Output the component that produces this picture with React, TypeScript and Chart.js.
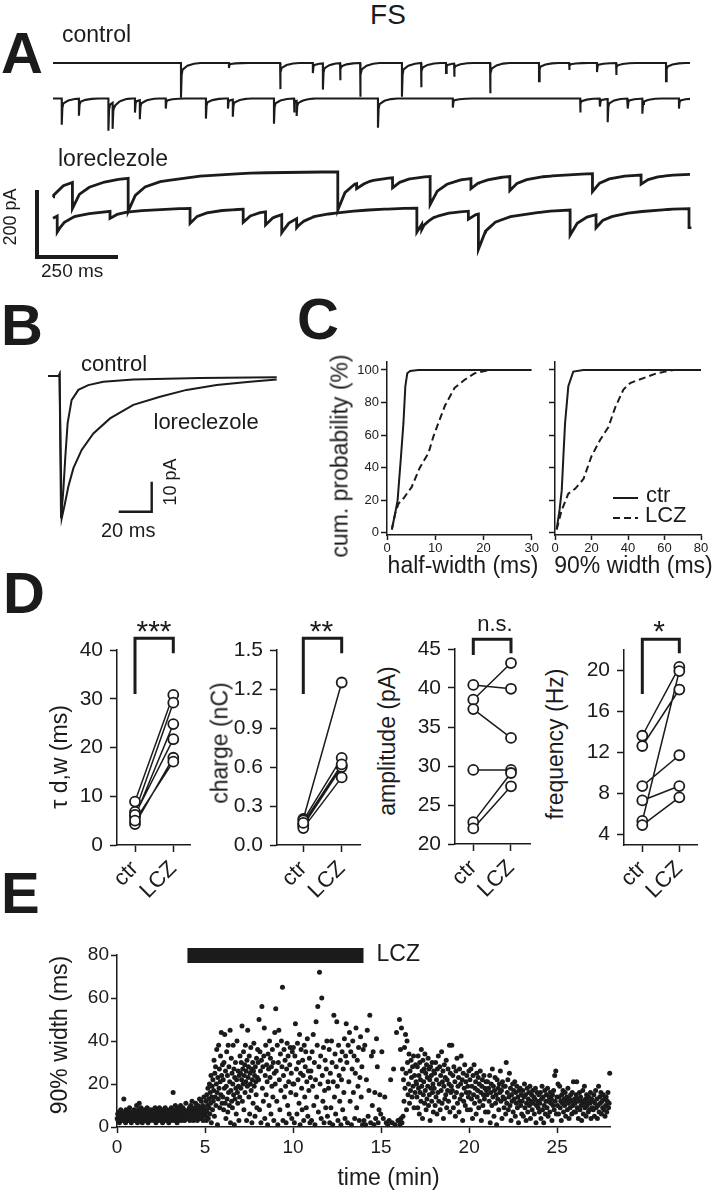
import React, { useEffect, useRef } from 'react';
import { Chart, registerables } from 'chart.js';

Chart.register(...registerables);

const FONT = '"Liberation Sans", Arial, Helvetica, sans-serif';
const INK = '#1b1b1b';

/* ======================= DATA ======================= */

// Panel A – spontaneous events in 2-s sweeps: [time (ms), amplitude (pA)]
const controlSweep1: [number, number][] = [
  [395, 104], [543, 15], [701, 78], [802, 30], [833, 78], [886, 51], [948, 101], [1077, 101],
  [1136, 72], [1213, 30], [1238, 39], [1349, 90], [1500, 54], [1593, 21], [1679, 27], [1738, 36], [1892, 54],
];
const controlSweep2: [number, number][] = [
  [27, 78], [80, 51], [171, 96], [184, 78], [253, 42], [268, 57], [348, 30], [472, 60], [540, 30],
  [555, 51], [682, 75], [744, 42], [752, 45], [1003, 87], [1234, 27], [1627, 42], [1688, 24],
  [1712, 69], [1774, 30], [1819, 45], [1932, 30],
];
const lczSweep1: [number, number][] = [
  [-20, 128], [60, 78], [232, 99], [879, 114], [937, 15], [1048, 30], [1164, 84], [1290, 30],
  [1410, 42], [1665, 54], [1815, 27],
];
const lczSweep2: [number, number][] = [
  [-30, 70], [13, 48], [176, 21], [423, 45], [587, 39], [656, 39], [706, 54], [752, 27], [1123, 72],
  [1138, 15], [1282, 24], [1313, 105], [1596, 75], [1676, 39], [1963, 57],
];
// event decay shapes (time after peak in ms, fraction of peak)
const ctrlDecayMs = [0, 2, 5, 20, 40, 60];
const ctrlDecayFrac = [1, 0.35, 0.19, 0.08, 0.02, 0];
const lczDecayMs = [0, 22, 52, 99, 222, 377, 600];
const lczDecayFrac = [1, 0.54, 0.32, 0.19, 0.08, 0.03, 0];
const sweepEndMs = 1966;
const scaleBarA = { pA: 200, ms: 250 };

// Panel B – averaged events
const avgCtrlMs = [0, 6.6, 7.0, 7.9, 9.3, 10.5, 11.9, 14.3, 18.4, 24.4, 33.5, 51.7, 92, 138.6];
const avgCtrlPA = [0.3, 0.4, 0.9, -47.1, -37.7, -26.6, -15.4, -7.7, -4.3, -2.7, -1.6, -0.8, -0.3, -0.1];
const avgLczMs = [0, 6.6, 7.0, 8.3, 10.3, 12.3, 15.4, 20.4, 27.5, 37.6, 51.7, 67.9, 84, 102.2, 122.4, 138.6];
const avgLczPA = [0.3, 0.4, 0.9, -47.1, -42.1, -36.6, -30.4, -24.3, -18.8, -13.8, -9.3, -6.6, -4.3, -2.7, -1.6, -0.8];
const scaleBarB = { pA: 10, ms: 20 };

// Panel C – cumulative distributions
const hwCtrMs = [1.0, 1.7, 2.2, 2.9, 3.4, 3.8, 4.2, 4.8, 6.5, 30];
const hwCtrPct = [2, 12, 20, 47, 67, 90, 98, 99.4, 100, 100];
const hwLczMs = [1.0, 1.7, 2.4, 3.4, 5.1, 6.8, 8.6, 9.6, 10.6, 12, 14, 16.1, 18.2, 21.2, 30];
const hwLczPct = [2, 12, 18, 21, 28, 40, 49, 59, 67, 78, 89, 94, 98, 100, 100];
const w90CtrMs = [0.9, 2.5, 3.7, 4.6, 5.5, 7.3, 10, 15.6, 80];
const w90CtrPct = [2, 14, 26, 47, 67, 90, 99, 100, 100];
const w90LczMs = [0.9, 3.7, 7.3, 11, 15.6, 20, 24.7, 29.3, 33, 37.5, 41.2, 48.5, 55.9, 65, 80];
const w90LczPct = [2, 14, 24, 27, 33, 47, 57, 65, 77, 88, 92, 95, 98, 100, 100];
const hwTicks = [0, 10, 20, 30];
const w90Ticks = [0, 20, 40, 60, 80];
const cumTicks = [0, 20, 40, 60, 80, 100];

// Panel D – paired cells (ctr -> LCZ)
const groups = ['ctr', 'LCZ'];
const tauCtr = [8.9, 6.8, 5.8, 6.2, 4.3, 5.0];
const tauLcz = [30.8, 29.2, 24.8, 21.7, 17.9, 17.1];
const chargeCtr = [0.2, 0.19, 0.16, 0.15, 0.13, 0.17];
const chargeLcz = [1.25, 0.67, 0.61, 0.6, 0.52, 0.62];
const ampCtr = [40.4, 38.5, 37.3, 29.5, 22.8, 22.0];
const ampLcz = [39.9, 43.2, 33.6, 29.5, 29.1, 27.4];
const freqCtr = [13.6, 12.6, 8.7, 7.3, 5.3, 4.9];
const freqLcz = [20.3, 18.1, 11.7, 8.7, 19.9, 7.6];
const tauTicks = [0, 10, 20, 30, 40];
const chargeTicks = [0, 0.3, 0.6, 0.9, 1.2, 1.5];
const ampTicks = [20, 25, 30, 35, 40, 45];
const freqTicks = [4, 8, 12, 16, 20];

// Panel E – 90% width of each event, grouped per minute of recording
const width90ByMinute: number[][] = [
  [4, 6, 3, 5, 7, 2, 5, 4, 8, 3, 6, 5, 4, 7, 3, 13, 5, 6, 4, 2, 8, 5, 3, 6, 4, 7, 5, 3, 9, 4, 6, 5, 2, 7, 4, 5, 6, 3, 8, 5],
  [5, 3, 7, 4, 10, 6, 2, 5, 8, 4, 11, 3, 6, 5, 9, 4, 7, 2, 5, 6, 3, 8, 4, 5, 7, 3, 6, 4, 9, 5, 2, 6, 7, 4, 5, 3, 8, 6, 4, 5],
  [4, 6, 8, 3, 5, 7, 9, 4, 2, 6, 5, 8, 3, 7, 4, 6, 9, 5, 3, 7, 4, 8, 6, 2, 5, 7, 3, 6, 4, 9, 5, 8, 3, 6, 7, 4, 5, 2, 6, 8],
  [5, 7, 3, 9, 6, 4, 8, 16, 5, 3, 7, 6, 10, 4, 8, 5, 2, 7, 9, 3, 6, 5, 8, 4, 10, 6, 3, 7, 5, 9, 4, 6, 8, 3, 5, 7, 11, 4, 6, 5],
  [6, 4, 8, 5, 9, 3, 7, 10, 5, 6, 12, 4, 8, 3, 7, 5, 9, 6, 11, 4, 8, 7, 3, 10, 6, 5, 9, 13, 4, 8, 6, 12, 7, 5, 10, 3, 9, 14, 6, 8],
  [8, 5, 12, 3, 15, 7, 10, 18, 4, 13, 9, 20, 6, 16, 11, 24, 2, 14, 19, 8, 22, 12, 17, 31, 5, 25, 14, 28, 10, 20, 36, 16, 1, 23, 13, 38, 18, 27, 9, 21, 33, 15, 44, 24, 11, 29],
  [14, 22, 8, 30, 18, 43, 11, 26, 4, 19, 35, 13, 24, 7, 38, 16, 28, 10, 21, 45, 2, 17, 32, 12, 25, 9, 20, 38, 15, 27, 1, 23, 13, 30, 18, 6, 22, 40, 16, 11, 26, 19, 3, 24, 14, 33],
  [25, 18, 30, 22, 47, 12, 27, 20, 35, 8, 24, 29, 16, 38, 21, 26, 3, 31, 19, 45, 23, 28, 14, 33, 6, 25, 20, 37, 17, 27, 2, 22, 30, 11, 26, 39, 19, 24, 5, 28, 21, 15, 32, 9, 23, 36],
  [30, 22, 50, 8, 35, 26, 2, 31, 56, 18, 28, 12, 33, 46, 4, 24, 38, 15, 29, 21, 1, 34, 27, 10, 40, 23, 32, 6, 28, 19, 36, 14, 30, 3, 25, 44, 20],
  [55, 26, 12, 38, 1, 30, 45, 22, 8, 34, 17, 40, 28, 65, 3, 24, 36, 14, 31, 19, 2, 27, 39, 10, 33, 21, 6, 29, 37, 16, 25, 4, 35, 20],
  [37, 20, 2, 33, 48, 15, 27, 6, 39, 22, 30, 11, 43, 1, 25, 36, 18, 8, 31, 24, 3, 38, 14, 28, 35, 9, 21, 41, 5, 26, 17, 32, 2, 23],
  [26, 3, 35, 19, 43, 10, 30, 1, 22, 49, 14, 38, 56, 7, 28, 72, 20, 33, 4, 60, 24, 12, 37, 2, 17, 31, 9, 27, 40, 5, 21],
  [18, 36, 2, 25, 9, 40, 30, 1, 21, 52, 14, 34, 6, 28, 49, 19, 3, 38, 24, 12, 31, 1, 22, 35, 8, 27, 16, 41, 4, 33],
  [48, 30, 2, 38, 21, 44, 12, 35, 1, 27, 40, 16, 33, 4, 25, 46, 9, 31, 19, 37, 3, 23, 42, 14, 28, 1, 36],
  [3, 38, 1, 22, 45, 5, 17, 52, 2, 33, 10, 35, 1, 16, 4, 41, 28, 2, 8, 15, 6],
  [35, 4, 14, 2, 1, 3, 22, 2, 27, 1, 44, 3],
  [3, 50, 1, 36, 4, 46, 2, 27, 5, 22, 12, 37, 18, 43, 25, 8, 40, 30, 15, 20, 34, 11, 26, 17, 31, 23, 14, 28, 19, 33, 9, 24, 16, 29, 21],
  [20, 14, 28, 9, 33, 18, 24, 6, 30, 16, 22, 12, 36, 19, 26, 4, 31, 15, 21, 27, 11, 34, 17, 25, 8, 29, 13, 23, 19, 32, 10, 27, 15, 22, 3, 28, 18, 24, 12, 30, 16, 20, 7, 26],
  [18, 25, 10, 30, 14, 22, 6, 27, 16, 33, 12, 20, 28, 8, 24, 17, 35, 11, 21, 26, 4, 19, 29, 13, 23, 15, 31, 9, 22, 17, 27, 12, 20, 38, 7, 25, 16, 19],
  [38, 17, 24, 9, 28, 14, 21, 5, 26, 16, 32, 11, 19, 23, 7, 27, 13, 20, 33, 15, 22, 3, 25, 12, 18, 29, 10, 21, 16, 24, 8, 19, 14, 26],
  [16, 22, 8, 27, 13, 19, 4, 24, 15, 29, 11, 18, 21, 6, 25, 14, 17, 23, 9, 20, 12, 26, 16, 3, 19, 22, 10, 15, 24, 13, 18, 7, 21, 17],
  [15, 21, 7, 18, 12, 24, 2, 16, 20, 10, 27, 14, 19, 5, 17, 23, 11, 15, 1, 22, 13, 18, 8, 20, 16, 26, 12, 17, 4, 21, 14, 19, 9],
  [13, 19, 6, 30, 11, 16, 22, 8, 14, 25, 10, 18, 3, 15, 12, 20, 7, 17, 13, 21, 5, 16, 11, 19, 9, 14, 2, 17, 12, 18, 10, 15, 6],
  [12, 17, 5, 14, 20, 9, 15, 3, 11, 18, 7, 13, 16, 10, 19, 4, 12, 15, 8, 17, 11, 14, 6, 13, 18, 2, 10, 16, 12, 9, 15, 7],
  [11, 16, 4, 13, 19, 8, 14, 2, 10, 17, 6, 12, 15, 9, 18, 5, 12, 14, 7, 16, 11, 13, 3, 15, 10, 17, 8, 24, 12, 26, 6, 14],
  [10, 20, 6, 14, 19, 9, 12, 3, 15, 11, 17, 7, 13, 10, 16, 5, 12, 14, 8, 18, 11, 4, 13, 9, 15, 12, 6, 16, 10, 21, 7, 13],
  [11, 7, 15, 21, 9, 13, 4, 12, 16, 8, 14, 10, 3, 12, 17, 6, 11, 19, 9, 13, 5, 15, 10, 12, 7, 14, 8, 11, 16, 4, 13, 9],
  [12, 8, 15, 5, 11, 17, 9, 13, 4, 10, 19, 7, 14, 11, 16, 6, 12, 9, 15, 8, 13, 5, 10, 14, 7, 12, 16, 9, 11, 25],
];
const lczApplication = { start: 4, end: 14 };
const timeTicks = [0, 5, 10, 15, 20, 25];
const widthTicks = [0, 20, 40, 60, 80];

/* ======================= HELPERS ======================= */

function decayAt(d: number, kt: number[], kf: number[]) {
  if (d < 0) return 0;
  for (let i = 1; i < kt.length; i++) {
    if (d <= kt[i]) {
      const f = (d - kt[i - 1]) / (kt[i] - kt[i - 1]);
      return kf[i - 1] + f * (kf[i] - kf[i - 1]);
    }
  }
  return 0;
}

function sweepPoints(events: [number, number][], kt: number[], kf: number[], base: number, end: number) {
  const set = new Set<number>([0, end]);
  events.forEach(([te]) => {
    if (te - 0.05 > 0) set.add(te - 0.05);
    kt.forEach((k) => {
      const t = te + k;
      if (t >= 0 && t <= end) set.add(t);
    });
  });
  const ts = Array.from(set).sort((a, b) => a - b);
  return ts.map((t) => ({
    x: t,
    y: base - events.reduce((s, [te, a]) => s + a * decayAt(t - te, kt, kf), 0),
  }));
}

const zip = (xs: number[], ys: number[]) => xs.map((x, i) => ({ x, y: ys[i] }));

function hiddenAxis(min: number, max: number) {
  return { type: 'linear', display: false, min, max };
}

function axis(o: {
  min: number; max: number; ticks: number[]; size: number; font: number; tickLen: number; pad: number;
  fmt?: (v: number) => string; labels?: boolean; rot?: number;
}) {
  return {
    type: 'linear',
    min: o.min,
    max: o.max,
    afterBuildTicks: (s: any) => {
      s.ticks = o.ticks.map((v) => ({ value: v }));
    },
    afterFit: (s: any) => {
      if (s.isHorizontal()) s.height = o.size;
      else s.width = o.size;
    },
    ticks: {
      display: o.labels !== false,
      autoSkip: false,
      maxRotation: o.rot || 0,
      minRotation: o.rot || 0,
      padding: o.pad,
      color: INK,
      font: { family: FONT, size: o.font },
      callback: (v: any) => (o.fmt ? o.fmt(Number(v)) : String(v)),
    },
    grid: {
      display: true,
      drawOnChartArea: false,
      drawTicks: true,
      tickLength: o.tickLen,
      tickWidth: 1.5,
      tickColor: INK,
      color: INK,
    },
    border: { display: true, color: INK, width: 1.5 },
  };
}

function baseOptions(padding: any, scales: any) {
  return {
    responsive: false,
    maintainAspectRatio: false,
    animation: false,
    devicePixelRatio: 1,
    events: [],
    layout: { padding, autoPadding: false },
    plugins: { legend: { display: false }, tooltip: { enabled: false }, title: { display: false } },
    scales,
  };
}

function Plot({ left, top, width, height, config }: { left: number; top: number; width: number; height: number; config: any }) {
  const ref = useRef<HTMLCanvasElement>(null);
  useEffect(() => {
    const chart = new Chart(ref.current as HTMLCanvasElement, config);
    return () => chart.destroy();
  }, []);
  return (
    <canvas
      ref={ref}
      width={width}
      height={height}
      style={{ position: 'absolute', left, top, width, height, display: 'block' }}
    />
  );
}

function Label({ x, y, s, t, a = 'l', r = false, b = false }: { x: number; y: number; s: number; t: string; a?: 'l' | 'c'; r?: boolean; b?: boolean }) {
  const tf = r
    ? 'rotate(-90deg) translate(-50%, -0.8465em)'
    : a === 'c'
    ? 'translate(-50%, -0.8465em)'
    : 'translate(0, -0.8465em)';
  return (
    <div
      style={{
        position: 'absolute',
        left: x,
        top: y,
        fontSize: s,
        lineHeight: 1,
        fontFamily: FONT,
        fontWeight: b ? 700 : 400,
        color: INK,
        whiteSpace: 'nowrap',
        transform: tf,
        transformOrigin: '0 0',
      }}
    >
      {t}
    </div>
  );
}

/* ======================= PANEL A ======================= */
function PanelA() {
  const L = 0, T = 40, W = 713, H = 240;
  const t0x = 53, pxMs = 0.324, pxPA = 0.335;
  const rowBasePx = [63, 98.5, 172, 207];
  const base = rowBasePx.map((p) => -(p - T) / pxPA);
  const sbX = (37 - t0x) / pxMs;
  const sbY = -(257 - T) / pxPA;
  const config = {
    type: 'scatter',
    data: {
      datasets: [
        { data: sweepPoints(controlSweep1, ctrlDecayMs, ctrlDecayFrac, base[0], sweepEndMs), borderWidth: 2.1 },
        { data: sweepPoints(controlSweep2, ctrlDecayMs, ctrlDecayFrac, base[1], sweepEndMs), borderWidth: 2.1 },
        { data: sweepPoints(lczSweep1, lczDecayMs, lczDecayFrac, base[2], sweepEndMs), borderWidth: 2.8 },
        { data: sweepPoints(lczSweep2, lczDecayMs, lczDecayFrac, base[3], sweepEndMs), borderWidth: 2.8 },
        {
          data: [
            { x: sbX, y: sbY + scaleBarA.pA },
            { x: sbX, y: sbY },
            { x: sbX + scaleBarA.ms, y: sbY },
          ],
          borderWidth: 4,
          borderJoinStyle: 'miter',
        },
      ].map((d) => ({ ...d, showLine: true, pointRadius: 0, borderColor: INK, tension: 0, clip: false })),
    },
    options: baseOptions(0, {
      x: hiddenAxis(-(t0x - L) / pxMs, (L + W - t0x) / pxMs),
      y: hiddenAxis(-H / pxPA, 0),
    }),
  };
  return <Plot left={L} top={T} width={W} height={H} config={config} />;
}

/* ======================= PANEL B ======================= */
function PanelB() {
  const L = 40, T = 355, W = 250, H = 185;
  const t0x = 48, baseY = 377, pxMs = 1.65, pxPA = 3;
  const sbT = (151.7 - t0x) / pxMs;
  const sbP = -(511.7 - baseY) / pxPA;
  const config = {
    type: 'scatter',
    data: {
      datasets: [
        { data: zip(avgCtrlMs, avgCtrlPA), borderWidth: 2 },
        { data: zip(avgLczMs, avgLczPA), borderWidth: 2 },
        {
          data: [
            { x: sbT - scaleBarB.ms, y: sbP },
            { x: sbT, y: sbP },
            { x: sbT, y: sbP + scaleBarB.pA },
          ],
          borderWidth: 2.4,
          borderJoinStyle: 'miter',
        },
      ].map((d) => ({ ...d, showLine: true, pointRadius: 0, borderColor: INK, tension: 0, clip: false })),
    },
    options: baseOptions(0, {
      x: hiddenAxis((L - t0x) / pxMs, (L + W - t0x) / pxMs),
      y: hiddenAxis(-(T + H - baseY) / pxPA, (baseY - T) / pxPA),
    }),
  };
  return <Plot left={L} top={T} width={W} height={H} config={config} />;
}

/* ======================= PANEL C ======================= */
const DASH = [7, 4];

function legendSamples(items: { dash: number[]; dy: number }[], x0: number, x1: number) {
  return {
    id: 'legendSamples',
    afterDatasetsDraw(chart: any) {
      const { ctx, chartArea } = chart;
      ctx.save();
      ctx.strokeStyle = INK;
      ctx.lineWidth = 2;
      items.forEach((it) => {
        ctx.setLineDash(it.dash);
        ctx.beginPath();
        ctx.moveTo(chartArea.left + x0, chartArea.top + it.dy);
        ctx.lineTo(chartArea.left + x1, chartArea.top + it.dy);
        ctx.stroke();
      });
      ctx.restore();
    },
  };
}

function cumConfig(ctr: any[], lcz: any[], xMax: number, xTicks: number[], yW: number, rightPad: number, showY: boolean, plugins: any[]) {
  return {
    type: 'scatter',
    data: {
      datasets: [
        { data: ctr, borderDash: [] },
        { data: lcz, borderDash: DASH },
      ].map((d) => ({ ...d, showLine: true, pointRadius: 0, borderColor: INK, borderWidth: 2, tension: 0 })),
    },
    options: baseOptions({ top: 10, right: rightPad, left: 0, bottom: 0 }, {
      x: axis({ min: 0, max: xMax, ticks: xTicks, size: 27, font: 13, tickLen: 5, pad: 1 }),
      y: axis({ min: -1.4, max: 104.9, ticks: cumTicks, size: yW, font: 13, tickLen: 6, pad: 2, labels: showY }),
    }),
    plugins,
  };
}

function PanelC() {
  const left = cumConfig(zip(hwCtrMs, hwCtrPct), zip(hwLczMs, hwLczPct), 30, hwTicks, 37, 7, true, []);
  const right = cumConfig(
    zip(w90CtrMs, w90CtrPct),
    zip(w90LczMs, w90LczPct),
    80,
    w90Ticks,
    35,
    12,
    false,
    [legendSamples([{ dash: [], dy: 136 }, { dash: DASH, dy: 156 }], 58, 83)]
  );
  return (
    <>
      <Plot left={350} top={352} width={190} height={210} config={left} />
      <Plot left={520} top={352} width={193} height={210} config={right} />
    </>
  );
}

/* ======================= PANEL D ======================= */
function bracket(top: number, legL: number, legR: number) {
  return {
    id: 'sigBracket',
    afterDatasetsDraw(chart: any) {
      const { ctx, chartArea, scales } = chart;
      const x0 = scales.x.getPixelForValue(0);
      const x1 = scales.x.getPixelForValue(1);
      ctx.save();
      ctx.strokeStyle = INK;
      ctx.lineWidth = 3;
      ctx.lineJoin = 'miter';
      ctx.lineCap = 'butt';
      ctx.beginPath();
      ctx.moveTo(x0, chartArea.top + legL);
      ctx.lineTo(x0, chartArea.top + top);
      ctx.lineTo(x1, chartArea.top + top);
      ctx.lineTo(x1, chartArea.top + legR);
      ctx.stroke();
      ctx.restore();
    },
  };
}

function pairedConfig(o: {
  ctr: number[]; lcz: number[]; yMin: number; yMax: number; yTicks: number[]; fmt?: (v: number) => string;
  xMin: number; xMax: number; yW: number; padTop: number; xH: number; br: [number, number, number];
}) {
  const lines: any[] = [];
  o.ctr.forEach((c, i) => {
    lines.push({ x: 0, y: c }, { x: 1, y: o.lcz[i] }, { x: 0.5, y: null });
  });
  const pts = [...o.ctr.map((y) => ({ x: 0, y })), ...o.lcz.map((y) => ({ x: 1, y }))];
  return {
    type: 'scatter',
    data: {
      datasets: [
        {
          data: pts,
          showLine: false,
          pointRadius: 5,
          pointBorderWidth: 1.8,
          pointBackgroundColor: '#ffffff',
          pointBorderColor: INK,
          clip: false,
        },
        { data: lines, showLine: true, pointRadius: 0, borderColor: INK, borderWidth: 1.5, spanGaps: false, clip: false },
      ],
    },
    options: baseOptions({ top: o.padTop, right: 10, left: 0, bottom: 0 }, {
      x: axis({
        min: o.xMin, max: o.xMax, ticks: [0, 1], size: o.xH, font: 22, tickLen: 7, pad: 4, rot: 45,
        fmt: (v) => groups[v] || '',
      }),
      y: axis({ min: o.yMin, max: o.yMax, ticks: o.yTicks, size: o.yW, font: 21, tickLen: 7, pad: 7, fmt: o.fmt }),
    }),
    plugins: [bracket(o.br[0], o.br[1], o.br[2])],
  };
}

function PanelD() {
  const d1 = pairedConfig({ ctr: tauCtr, lcz: tauLcz, yMin: 0, yMax: 40, yTicks: tauTicks, xMin: -0.47, xMax: 1.436, yW: 47, padTop: 25, xH: 65, br: [-11.7, 44, 3.3] });
  const d2 = pairedConfig({ ctr: chargeCtr, lcz: chargeLcz, yMin: 0, yMax: 1.5, yTicks: chargeTicks, fmt: (v) => v.toFixed(1), xMin: -0.685, xMax: 1.477, yW: 52, padTop: 25, xH: 65, br: [-11.7, 44, 3.3] });
  const d3 = pairedConfig({ ctr: ampCtr, lcz: ampLcz, yMin: 20, yMax: 45, yTicks: ampTicks, xMin: -0.485, xMax: 1.504, yW: 55, padTop: 25, xH: 66, br: [-9.7, 6, 4.3] });
  const d4 = pairedConfig({ ctr: freqCtr, lcz: freqLcz, yMin: 2.96, yMax: 21.95, yTicks: freqTicks, xMin: -0.495, xMax: 1.478, yW: 54, padTop: 25, xH: 65, br: [-10.7, 44, 3.3] });
  return (
    <>
      <Plot left={70} top={625} width={130} height={285} config={d1} />
      <Plot left={225} top={625} width={145} height={285} config={d2} />
      <Plot left={400} top={624} width={140} height={286} config={d3} />
      <Plot left={570} top={625} width={137} height={285} config={d4} />
    </>
  );
}

/* ======================= PANEL E ======================= */
function PanelE() {
  const pts: { x: number; y: number }[] = [];
  width90ByMinute.forEach((vals, m) => {
    vals.forEach((v, i) => pts.push({ x: m + (i + 0.5) / vals.length, y: v }));
  });
  const config = {
    type: 'scatter',
    data: {
      datasets: [
        { data: pts, pointRadius: 2.5, pointBorderWidth: 0, pointBackgroundColor: INK, showLine: false, clip: false },
        {
          data: [
            { x: lczApplication.start, y: 79.8 },
            { x: lczApplication.end, y: 79.8 },
          ],
          showLine: true,
          pointRadius: 0,
          borderColor: INK,
          borderWidth: 15,
          borderCapStyle: 'butt',
          clip: false,
        },
      ],
    },
    options: baseOptions({ top: 25, right: 10, left: 0, bottom: 0 }, {
      x: axis({ min: 0, max: 28, ticks: timeTicks, size: 68, font: 19, tickLen: 6, pad: 3 }),
      y: axis({ min: 0, max: 80, ticks: widthTicks, size: 57, font: 19, tickLen: 6, pad: 2 }),
    }),
  };
  return <Plot left={60} top={930} width={560} height={265} config={config} />;
}

/* ======================= APP ======================= */
export default function App() {
  return (
    <div
      style={{
        position: 'absolute',
        left: 0,
        top: 0,
        width: 713,
        height: 1199,
        overflow: 'hidden',
        background: '#ffffff',
      }}
    >
      <PanelA />
      <PanelB />
      <PanelC />
      <PanelD />
      <PanelE />

      {/* Panel A text */}
      <Label x={388} y={25} s={28} t="FS" a="c" />
      <Label x={1} y={73} s={58} t="A" b />
      <Label x={62} y={42} s={23} t="control" />
      <Label x={58} y={166} s={23} t="loreclezole" />
      <Label x={16} y={216.7} s={18} t="200 pA" r />
      <Label x={41} y={277} s={19} t="250 ms" />

      {/* Panel B text */}
      <Label x={1} y={345} s={58} t="B" b />
      <Label x={81} y={371.5} s={22} t="control" />
      <Label x={153.5} y={430} s={22} t="loreclezole" />
      <Label x={176} y={481.7} s={18} t="10 pA" r />
      <Label x={101} y={536.5} s={20} t="20 ms" />

      {/* Panel C text */}
      <Label x={297} y={339} s={58} t="C" b />
      <Label x={348} y={456} s={23} t="cum. probability (%)" r />
      <Label x={463} y={573} s={23} t="half-width (ms)" a="c" />
      <Label x={633.5} y={573} s={23} t="90% width (ms)" a="c" />
      <Label x={646} y={503} s={22} t="ctr" />
      <Label x={645} y={523} s={22} t="LCZ" />

      {/* Panel D text */}
      <Label x={3} y={613} s={58} t="D" b />
      <Label x={67} y={757} s={23} t="τ d,w (ms)" r />
      <Label x={228} y={743} s={23} t="charge (nC)" r />
      <Label x={395} y={741} s={23} t="amplitude (pA)" r />
      <Label x={563} y={744} s={23} t="frequency (Hz)" r />
      <Label x={154} y={641} s={30} t="***" a="c" />
      <Label x={321.5} y={641} s={30} t="**" a="c" />
      <Label x={495} y={632} s={22} t="n.s." a="c" />
      <Label x={659} y={641} s={30} t="*" a="c" />

      {/* Panel E text */}
      <Label x={1} y={913} s={58} t="E" b />
      <Label x={376.5} y={960.7} s={23} t="LCZ" />
      <Label x={67} y={1035} s={23} t="90% width (ms)" r />
      <Label x={388.5} y={1185} s={23} t="time (min)" a="c" />
    </div>
  );
}
